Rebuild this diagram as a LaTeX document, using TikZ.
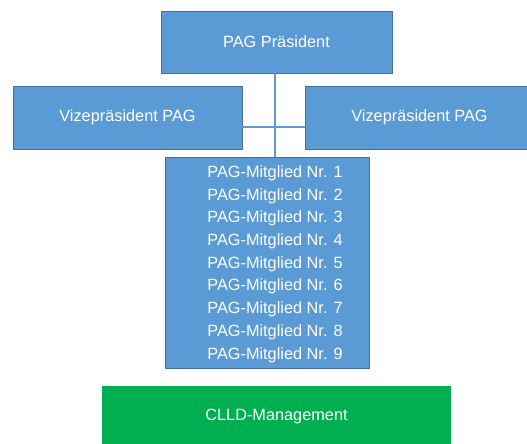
\documentclass[tikz,border=0pt]{standalone}
\usepackage{fontspec}
\setmainfont{Liberation Sans}
\definecolor{orgblue}{HTML}{5B9BD5}
\definecolor{orgedge}{HTML}{41719C}
\definecolor{orggreen}{HTML}{00B050}
\tikzset{
    orgfont/.style={font=\fontsize{16.3}{22.7}\selectfont},
    box/.style={draw=orgedge, fill=orgblue, line width=0.8pt, text=white, orgfont, inner sep=0pt},
    link/.style={draw=orgblue, line width=2pt}
}
\begin{document}
\begin{tikzpicture}[x=1pt, y=-1pt]
    \useasboundingbox (0,0) rectangle (527,444);
    \clip (0,0) rectangle (527,444);

    % Point where the connectors cross
    \coordinate (hub) at (275,127);

    % President on top
    \node[box, minimum width=231pt, minimum height=62pt] (president) at (276.5,42) {PAG Präsident};

    % Two vice presidents
    \node[box, minimum width=229pt, minimum height=63pt] (vpleft) at (127.5,117.5) {Vizepräsident PAG};
    \node[box, minimum width=229pt, minimum height=63pt] (vpright) at (419.5,117.5) {Vizepräsident PAG};

    % Members box and its list
    \node[box, minimum width=204pt, minimum height=211pt] (members) at (267,262.5) {};
    \node[text=white, orgfont, align=center, inner sep=0pt] (memberlist) at (275,264) {PAG-Mitglied Nr. 1\\PAG-Mitglied Nr. 2\\PAG-Mitglied Nr. 3\\PAG-Mitglied Nr. 4\\PAG-Mitglied Nr. 5\\PAG-Mitglied Nr. 6\\PAG-Mitglied Nr. 7\\PAG-Mitglied Nr. 8\\PAG-Mitglied Nr. 9};

    % Management at the bottom
    \node[fill=orggreen, text=white, orgfont, inner sep=0pt, minimum width=349pt, minimum height=60pt] (management) at (276.5,416) {CLLD-Management};

    % Connectors
    \draw[link] (president.south -| hub) -- (members.north -| hub);
    \draw[link] (vpleft.east |- hub) -- (vpright.west |- hub);
\end{tikzpicture}
\end{document}
